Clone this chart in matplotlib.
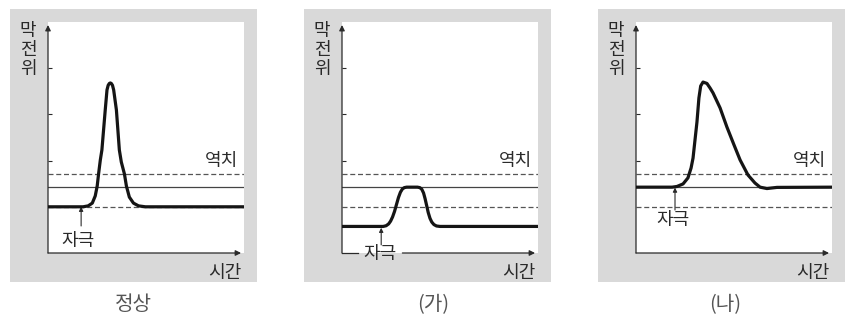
import matplotlib
matplotlib.use('Agg')
import matplotlib.pyplot as plt
from matplotlib.patches import Rectangle

plt.rcParams['font.family'] = ['Noto Sans CJK KR', 'DejaVu Sans']

# 막전위 곡선 (시간 0~100, 막전위는 임의 단위 0~100)
normal_t = [0, 17.9, 20.5, 22.6, 24.1, 25.1, 25.8, 26.7, 27.5, 29.2, 30.1, 30.7, 31.3, 31.8,
            32.3, 32.9, 33.5, 34.9, 36.4, 37.4, 39.0, 40.0, 41.5, 43.6, 46.2, 49.7, 100]
normal_v = [20, 20, 20.4, 21.6, 24.7, 29.0, 34.2, 40.3, 44.6, 61.9, 70.6, 72.6, 73.4, 73.6,
            73.4, 72.6, 70.6, 61.9, 44.6, 39.4, 34.2, 29.0, 24.2, 21.6, 20.4, 20, 20]

ga_t = [0, 21, 22.5, 23.8, 24.8, 25.8, 26.8, 27.8, 28.8, 29.8, 30.8, 31.8, 33, 38.5,
        39.7, 40.7, 41.6, 42.4, 43.2, 44, 44.9, 45.8, 46.9, 48.2, 50, 100]
ga_v = [11.5, 11.5, 11.8, 12.6, 13.8, 15.6, 18, 21, 24, 26.3, 27.7, 28.3, 28.5, 28.5,
        28.3, 27.6, 26, 23.5, 20.5, 17.5, 15, 13.4, 12.3, 11.7, 11.5, 11.5]

na_t = [0, 18.4, 20.9, 24, 26.5, 28.1, 29.1, 30.1, 31.1, 32.1, 33, 34.2, 36.2, 37.8,
        39.3, 42.9, 46.4, 50, 53.1, 57.1, 60.7, 63.3, 66.8, 71.9, 100]
na_v = [28.5, 28.5, 28.8, 29.9, 32.5, 36.8, 41.1, 48.9, 56.7, 67.1, 72.3, 74, 73.4, 71.4,
        69.3, 62.8, 54.5, 46.8, 40.3, 33.8, 30.3, 28.5, 27.9, 28.4, 28.5]

threshold = 34      # 역치 (위 점선)
rest_normal = 20    # 정상 휴지 전위 (아래 점선)
mid_level = 28.5    # 실선
y_ticks = [40, 60, 80]

titles = ['정상', '(가)', '(나)']
stim_t = [16.9, 20, 19.9]

W, H = 847, 322
fig = plt.figure(figsize=(W / 100, H / 100), dpi=100)
gray = '#d9d9d9'
ink = '#2a2a2a'


def px_box(x0, y0, x1, y1):
    return [x0 / W, 1 - y1 / H, (x1 - x0) / W, (y1 - y0) / H]


curves = [(normal_t, normal_v), (ga_t, ga_v), (na_t, na_v)]
ax_lefts = [48, 342, 636]
title_x = [133, 433, 725]

for i, (t, v) in enumerate(curves):
    left = ax_lefts[i]
    # 회색 바탕
    fig.add_artist(Rectangle(((left - 38) / W, 1 - 282 / H), 247 / W, 273 / H,
                             transform=fig.transFigure, color=gray, zorder=0, lw=0))
    ax = fig.add_axes(px_box(left, 22, left + 196, 253))
    ax.set_facecolor('white')
    ax.set_xlim(0, 100)
    ax.set_ylim(0, 100)
    for s in ax.spines.values():
        s.set_visible(False)
    ax.set_xticks([])
    ax.set_yticks(y_ticks)
    ax.set_yticklabels([])
    ax.tick_params(axis='y', direction='in', length=3, width=0.8, color=ink)

    # 축 화살표
    arrow = dict(arrowstyle='-|>', color=ink, lw=0.9, mutation_scale=8, shrinkA=0, shrinkB=0)
    ax.annotate('', xy=(0, 98.7), xytext=(0, 0), arrowprops=arrow, annotation_clip=False)
    if i == 1:
        ax.plot([0, 8.2], [0, 0], color=ink, lw=0.9, clip_on=False)
        ax.annotate('', xy=(98.5, 0), xytext=(30.8, 0), arrowprops=arrow, annotation_clip=False)
    else:
        ax.annotate('', xy=(98.5, 0), xytext=(0, 0), arrowprops=arrow, annotation_clip=False)

    # 기준선
    ax.axhline(threshold, ls=(0, (4, 2.2)), color='#555555', lw=0.9)
    ax.axhline(rest_normal, ls=(0, (4, 2.2)), color='#555555', lw=0.9)
    ax.axhline(mid_level, color='#444444', lw=0.9)

    ax.plot(t, v, color='#151515', lw=2.3, solid_joinstyle='round', solid_capstyle='butt', zorder=5)

    # 자극
    small = dict(arrowstyle='-|>', color=ink, lw=0.8, mutation_scale=6, shrinkA=0, shrinkB=0)
    base = v[0]
    if i == 0:
        ax.annotate('', xy=(stim_t[i], base), xytext=(stim_t[i], 11.7), arrowprops=small)
        ax.text(15.4, 5.2, '자극', ha='center', va='center', fontsize=13, color=ink)
    elif i == 1:
        ax.annotate('', xy=(stim_t[i], base - 0.6), xytext=(stim_t[i], 3.5), arrowprops=small)
        ax.text(19.5, -0.6, '자극', ha='center', va='center', fontsize=13, color=ink, clip_on=False)
    else:
        ax.annotate('', xy=(stim_t[i], base - 0.2), xytext=(stim_t[i], 18.6), arrowprops=small)
        ax.text(18.9, 14.4, '자극', ha='center', va='center', fontsize=13, color=ink)

    ax.text(97, 39.8, '역치', ha='right', va='center', fontsize=13, color=ink)
    ax.text(98.5, -8.8, '시간', ha='right', va='center', fontsize=13, color=ink, clip_on=False)
    fig.text((left - 20) / W, 1 - 50 / H, '막\n전\n위', ha='center', va='center',
             fontsize=13, color=ink, linespacing=1.1)
    fig.text(title_x[i] / W, 1 - 305 / H, titles[i], ha='center', va='center',
             fontsize=14.5, color='#555555')

fig.savefig('out.png', dpi=100, facecolor='white')
